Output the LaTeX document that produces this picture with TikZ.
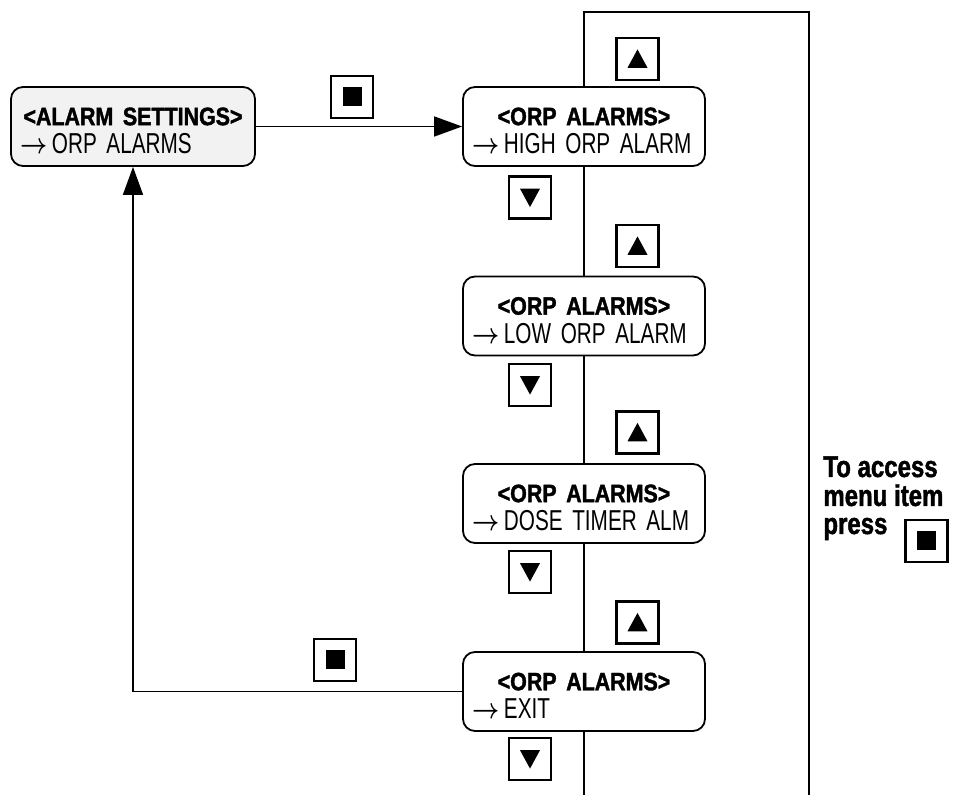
\documentclass[tikz,border=0pt]{standalone}
\usepackage{amsmath}
\usepackage{fontspec}
\usepackage{tikz}
\usetikzlibrary{positioning,arrows.meta}
\newfontfamily\lcdfont{Liberation Sans}[FakeStretch=0.72,WordSpace=2.4]
\newfontfamily\lcdbold{Liberation Sans}[FakeStretch=0.85,WordSpace=1.9,FakeBold=1.5]
\newfontfamily\hintfont{Liberation Sans}[FakeStretch=0.8,FakeBold=1.5]
\definecolor{panelgrey}{HTML}{F2F2F2}
\newcommand{\screenhead}[1]{\rule{0pt}{13pt}\makebox[\hsize][c]{\lcdbold\bfseries\fontsize{12.6}{15}\selectfont #1}}
\newcommand{\screenitem}[1]{\scalebox{0.82}[1]{$\boldsymbol{\rightarrow}$}\,#1}

\begin{document}
\begin{tikzpicture}[x=0.5pt,y=-0.5pt,
  every node/.style={inner sep=0pt},
  screen/.style={rectangle, draw=black, line width=0.9pt, rounded corners=6pt,
                 fill=white, minimum height=39.5pt, text width=112pt,
                 inner xsep=4.5pt, align=left,
                 font=\lcdfont\fontsize{14.4}{14.2}\selectfont},
  key/.style={rectangle, draw=black, line width=1.2pt, minimum size=21pt, fill=white},
  keyup/.style={key, path picture={\fill[black] (path picture bounding box.center)
                 ++(0pt,4.8pt) -- ++(-5pt,-9.2pt) -- ++(10pt,0pt) -- cycle;}},
  keydown/.style={key, path picture={\fill[black] (path picture bounding box.center)
                 ++(0pt,-4.8pt) -- ++(-5pt,9.2pt) -- ++(10pt,0pt) -- cycle;}},
  keyenter/.style={key, path picture={\fill[black] (path picture bounding box.center)
                 ++(-4.75pt,-4.75pt) rectangle ++(9.5pt,9.5pt);}},
  hint/.style={anchor=base west, font=\hintfont\bfseries\fontsize{15}{14}\selectfont},
  flow/.style={-{Triangle[length=14pt,width=10pt]}, line width=0.8pt},
  frame/.style={line width=0.7pt}
]
\useasboundingbox (0,0) rectangle (960,795);

% menu screens
\node[screen, fill=panelgrey, text width=113pt] (settings) at (133,126.5)
  {\screenhead{<ALARM SETTINGS>}\\\screenitem{ORP ALARMS}};
\node[screen] (high) at (584,126.5) {\screenhead{<ORP ALARMS>}\\\screenitem{HIGH ORP ALARM}};
\node[screen] (low)  at (584,316)   {\screenhead{<ORP ALARMS>}\\\screenitem{LOW ORP ALARM}};
\node[screen] (dose) at (584,503.5) {\screenhead{<ORP ALARMS>}\\\screenitem{DOSE TIMER ALM}};
\node[screen] (exit) at (584,691.5) {\screenhead{<ORP ALARMS>}\\\screenitem{EXIT}};

% up / down keys
\node[keyup] (upA) at (637.5,59) {};
\node[keyup] (upB) at (637.5,246) {};
\node[keyup] (upC) at (637.5,432.5) {};
\node[keyup] (upD) at (637.5,622.5) {};
\node[keydown] (downA) at (530,197.5) {};
\node[keydown] (downB) at (530,385) {};
\node[keydown] (downC) at (530,572) {};
\node[keydown] (downD) at (530,759) {};

% enter keys
\node[keyenter] (enterA) at (352,97) {};
\node[keyenter] (enterB) at (335,660) {};

% spine and frame
\coordinate (spinetop) at (584,12);
\coordinate (spinebot) at (584,795);
\coordinate (framebot) at (809,795);
\draw[frame] (high.north) -- (spinetop) -| (framebot);
\draw[frame] (high.south) -- (low.north);
\draw[frame] (low.south)  -- (dose.north);
\draw[frame] (dose.south) -- (exit.north);
\draw[frame] (exit.south) -- (spinebot);

\draw[flow] (settings.east) -- (high.west);
\draw[flow] (exit.west) -| (settings.south);

% note on the right
\node[hint] (hintA) at (823,477) {To access};
\node[hint] (hintB) at (823,506) {menu item};
\node[hint] (hintC) at (823,534) {press};
\node[keyenter] (enterC) at (926.5,541) {};
\end{tikzpicture}
\end{document}
